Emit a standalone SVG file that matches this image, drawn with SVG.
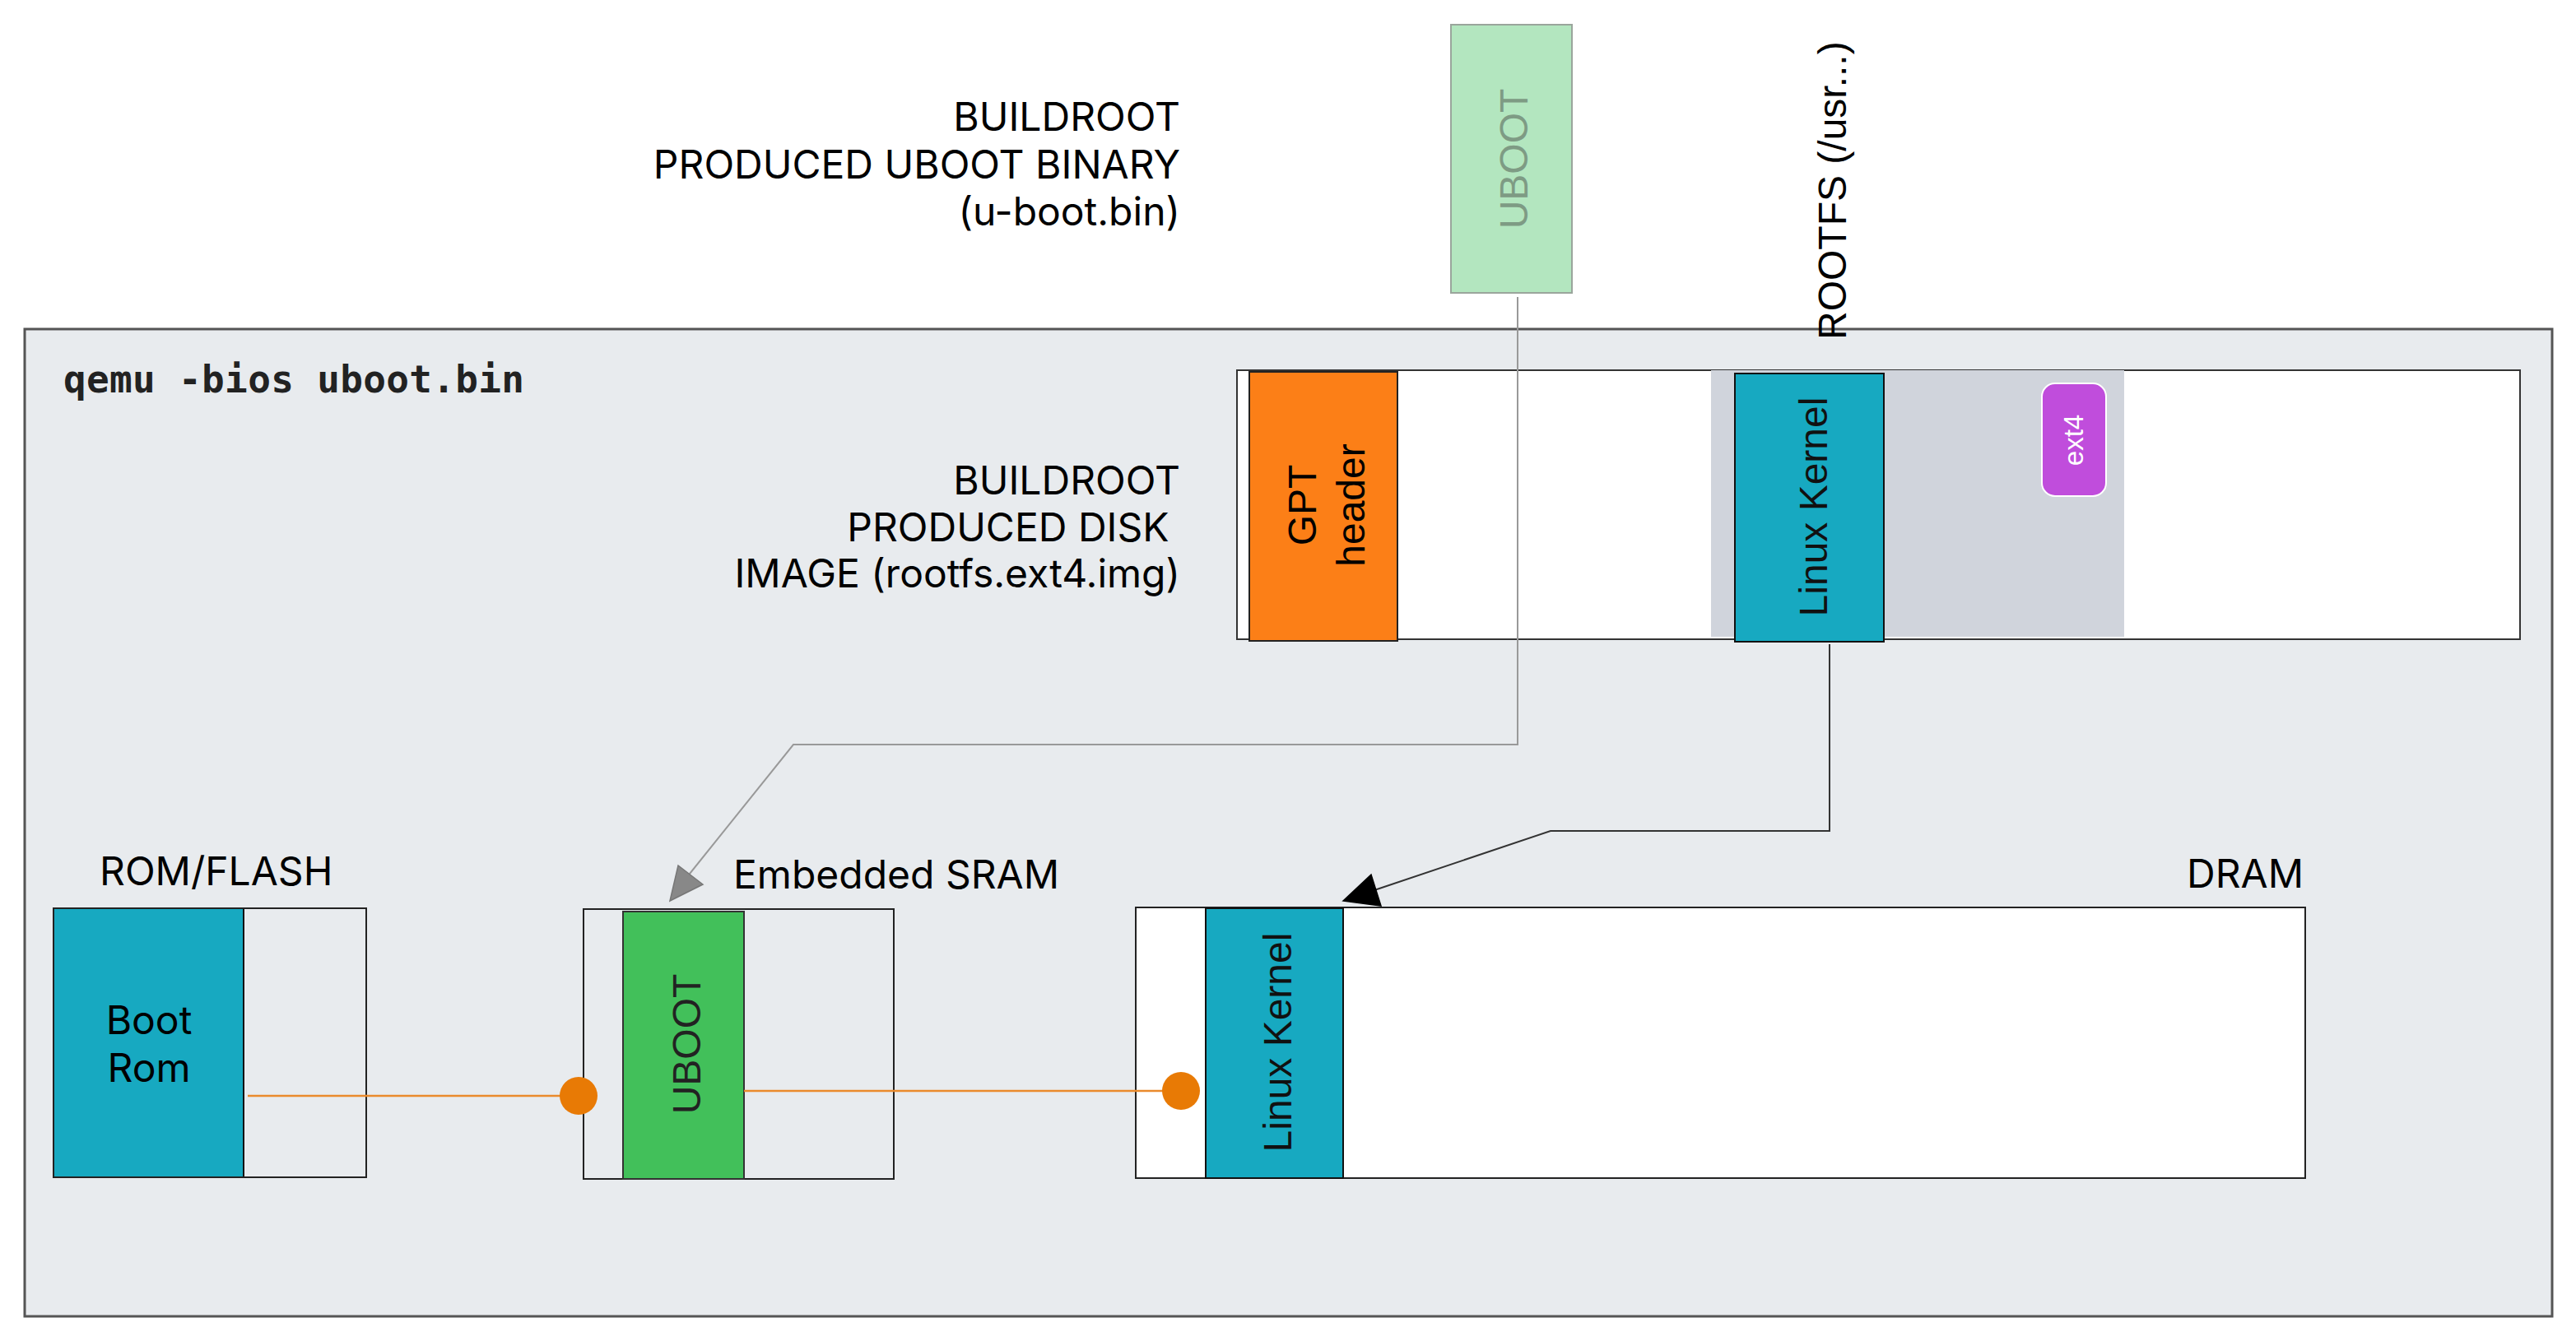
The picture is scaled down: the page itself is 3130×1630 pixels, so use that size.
<svg xmlns="http://www.w3.org/2000/svg" width="3130" height="1630" viewBox="0 0 3130 1630">
<style>
.lbl{font-family:Inter,"Liberation Sans",Arial,sans-serif;font-size:48px;fill:#000}
.rot{font-family:"Liberation Sans",Arial,sans-serif;font-size:48px;fill:#000;text-anchor:middle}
.mono{font-family:"DejaVu Sans Mono","Liberation Mono",monospace;font-size:46px;font-weight:bold;fill:#222}
.box{fill:none;stroke:#222;stroke-width:2}
.teal{fill:#17a9c1;stroke:#111;stroke-width:2}
.orange-line{stroke:#ea8a2c;stroke-width:2.5;fill:none}
.dot{fill:#e87a05}
</style>
<rect width="3130" height="1630" fill="#ffffff"/>

<g id="qemu-frame">
<rect x="30" y="400" width="3071" height="1200" fill="#e8ebee" stroke="#555" stroke-width="3"/>
<text class="mono" x="77" y="477" textLength="560">qemu -bios uboot.bin</text>
</g>

<g id="uboot-binary">
<rect x="1763" y="30" width="147" height="326" fill="#b3e6bf" stroke="#9aa59c" stroke-width="2"/>
<text class="rot" transform="translate(1856,193) rotate(-90)" style="fill:#7e9b84">UBOOT</text>
</g>

<g id="uboot-binary-label">
<text class="lbl" text-anchor="end"><tspan x="1434" y="159">BUILDROOT</tspan><tspan x="1434" y="217">PRODUCED UBOOT BINARY</tspan><tspan x="1434" y="274">(u-boot.bin)</tspan></text>
</g>

<g id="rootfs-label">
<text class="rot" style="text-anchor:start" transform="translate(2243,413) rotate(-90)">ROOTFS (/usr...)</text>
</g>

<g id="disk-image-label">
<text class="lbl" text-anchor="end" xml:space="preserve"><tspan x="1434" y="601">BUILDROOT</tspan><tspan x="1434" y="658">PRODUCED DISK </tspan><tspan x="1434" y="714">IMAGE (rootfs.ext4.img)</tspan></text>
</g>

<g id="disk-image">
<rect x="1503" y="450" width="1559" height="327" fill="#ffffff" stroke="#333" stroke-width="2"/>
<rect x="2079" y="450" width="502" height="324" fill="#d0d4dc"/>
</g>

<g id="gpt-header">
<rect x="1518" y="452" width="180" height="327" fill="#fc7f17" stroke="#222" stroke-width="2"/>
<text class="rot" transform="translate(1599,614) rotate(-90)">GPT</text>
<text class="rot" transform="translate(1658,614) rotate(-90)">header</text>
</g>

<g id="disk-linux-kernel">
<rect class="teal" x="2108" y="454" width="181" height="326"/>
<text class="rot" transform="translate(2220,616) rotate(-90)" style="fill:#111">Linux Kernel</text>
</g>

<g id="ext4">
<rect x="2481" y="466" width="78" height="137" rx="16" ry="16" fill="#c04ddc" stroke="#ffffff" stroke-width="2"/>
<text class="rot" transform="translate(2531,535) rotate(-90)" style="font-size:33px;fill:#ffffff">ext4</text>
</g>

<g id="rom-flash">
<text class="lbl" x="121" y="1076">ROM/FLASH</text>
<rect x="65" y="1104" width="231" height="327" fill="#17a9c1" stroke="#111" stroke-width="2"/>
<rect class="box" x="65" y="1104" width="380" height="327"/>
<text class="lbl" text-anchor="middle"><tspan x="181" y="1257">Boot</tspan><tspan x="181" y="1315">Rom</tspan></text>
</g>

<g id="embedded-sram">
<text class="lbl" x="891" y="1080">Embedded SRAM</text>
<rect class="box" x="709" y="1105" width="377" height="328"/>
<rect x="757" y="1108" width="147" height="325" fill="#42c05a" stroke="#333" stroke-width="2"/>
<text class="rot" transform="translate(851,1269) rotate(-90)" style="fill:#222">UBOOT</text>
</g>

<g id="dram">
<text class="lbl" x="2799" y="1079" text-anchor="end">DRAM</text>
<rect x="1380" y="1103" width="1421" height="329" fill="#ffffff" stroke="#222" stroke-width="2"/>
<rect class="teal" x="1465" y="1104" width="167" height="328"/>
<text class="rot" transform="translate(1569,1267) rotate(-90)" style="fill:#111">Linux Kernel</text>
</g>

<g id="connectors">
<polyline points="1844,361 1844,905 964,905 826,1077" fill="none" stroke="#999" stroke-width="2"/>
<polygon points="814,1095 824,1052 854,1075" fill="#888" stroke="#777" stroke-width="1.5"/>
<polyline points="2223,783 2223,1010 1884,1010 1670,1082" fill="none" stroke="#333" stroke-width="2"/>
<polygon points="1632,1095 1666,1063 1678,1101" fill="#000" stroke="#000" stroke-width="1.5"/>
<line class="orange-line" x1="301" y1="1332" x2="703" y2="1332"/>
<circle class="dot" cx="703" cy="1332" r="23"/>
<line class="orange-line" x1="904" y1="1326" x2="1435" y2="1326"/>
<circle class="dot" cx="1435" cy="1326" r="23"/>
</g>
</svg>
